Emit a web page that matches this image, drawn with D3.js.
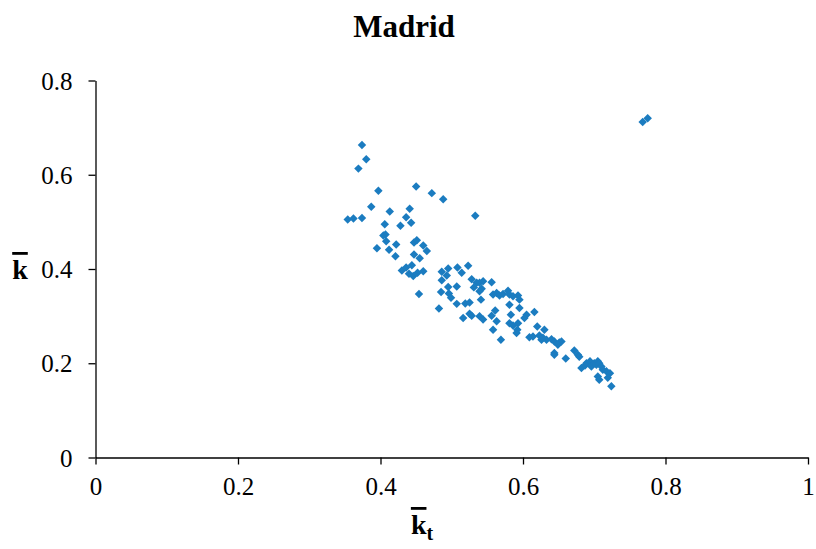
<!DOCTYPE html>
<html>
<head>
<meta charset="utf-8">
<script src="https://cdn.jsdelivr.net/npm/d3@7"></script>
<style>
  html, body { margin: 0; padding: 0; background: #fff; }
  svg { display: block; }
  text { font-family: "Liberation Serif", "Times New Roman", serif; fill: #000; }
</style>
</head>
<body>
<svg id="chart" width="816" height="549"></svg>
<script>
// Madrid: mean clearness index k̄t against mean diffuse fraction k̄
const kt = [
  0.374, 0.380, 0.369, 0.397, 0.450, 0.472, 0.488, 0.387, 0.413, 0.441,
  0.436, 0.354, 0.362, 0.374, 0.406, 0.428, 0.443, 0.533,
  0.404, 0.407, 0.408, 0.395, 0.412, 0.422, 0.421, 0.447, 0.451, 0.460,
  0.465, 0.447, 0.455, 0.430, 0.436, 0.444, 0.440, 0.446, 0.452, 0.460,
  0.454, 0.486, 0.495, 0.493, 0.486, 0.508, 0.514, 0.523, 0.507, 0.495,
  0.485, 0.496, 0.499, 0.507, 0.519, 0.482,
  0.525, 0.528, 0.535, 0.539, 0.544, 0.556, 0.531, 0.542, 0.539, 0.541,
  0.558, 0.563, 0.567, 0.572, 0.579, 0.581, 0.586, 0.593, 0.595, 0.581,
  0.595, 0.561, 0.556, 0.563, 0.583, 0.605, 0.616, 0.516, 0.525, 0.528,
  0.539, 0.544, 0.558, 0.581, 0.586, 0.593, 0.592, 0.591, 0.569, 0.602,
  0.620, 0.630, 0.609, 0.614, 0.623, 0.628, 0.633,
  0.626, 0.640, 0.644, 0.651, 0.654, 0.649, 0.644, 0.644, 0.660, 0.672,
  0.677, 0.679, 0.682, 0.687, 0.689, 0.694, 0.696, 0.700, 0.703, 0.705,
  0.707, 0.710, 0.712, 0.717, 0.722, 0.705, 0.707, 0.719, 0.724,
  0.768, 0.775
];
const k = [
  0.663, 0.633, 0.613, 0.566, 0.575, 0.561, 0.548, 0.532, 0.522, 0.528,
  0.510, 0.505, 0.507, 0.508, 0.495, 0.492, 0.498, 0.513,
  0.471, 0.473, 0.459, 0.444, 0.441, 0.452, 0.427, 0.456, 0.461, 0.450,
  0.438, 0.431, 0.423, 0.397, 0.403, 0.408, 0.390, 0.385, 0.392, 0.395,
  0.347, 0.394, 0.401, 0.386, 0.376, 0.403, 0.392, 0.407, 0.363, 0.362,
  0.351, 0.348, 0.339, 0.326, 0.327, 0.316,
  0.329, 0.378, 0.371, 0.371, 0.374, 0.372, 0.361, 0.358, 0.353, 0.335,
  0.346, 0.349, 0.344, 0.347, 0.354, 0.346, 0.342, 0.344, 0.335, 0.324,
  0.317, 0.312, 0.301, 0.289, 0.303, 0.303, 0.309, 0.296, 0.305, 0.301,
  0.300, 0.293, 0.271, 0.285, 0.280, 0.285, 0.271, 0.264, 0.250, 0.296,
  0.278, 0.271, 0.255, 0.257, 0.259, 0.254, 0.250,
  0.250, 0.251, 0.246, 0.244, 0.246, 0.239, 0.222, 0.218, 0.210, 0.227,
  0.218, 0.214, 0.190, 0.195, 0.200, 0.204, 0.193, 0.200, 0.197, 0.204,
  0.200, 0.193, 0.186, 0.183, 0.179, 0.172, 0.165, 0.169, 0.151,
  0.712, 0.720
];
const xTicks = [0, 0.2, 0.4, 0.6, 0.8, 1];
const yTicks = [0, 0.2, 0.4, 0.6, 0.8];

const svg = d3.select("#chart");
const x = d3.scaleLinear().domain([0, 1]).range([95.5, 808]);
const y = d3.scaleLinear().domain([0, 0.8]).range([457.5, 80.5]);

const fmt = d => d === 0 || d === 1 ? String(d) : d3.format(".1f")(d);

// axes
const xAxis = svg.append("g")
  .attr("transform", `translate(0,${y(0)})`)
  .call(d3.axisBottom(x).tickValues(xTicks).tickFormat(fmt).tickSizeInner(7).tickSizeOuter(0).tickPadding(13));
const yAxis = svg.append("g")
  .attr("transform", `translate(${x(0)},0)`)
  .call(d3.axisLeft(y).tickValues(yTicks).tickFormat(fmt).tickSizeInner(7).tickSizeOuter(0).tickPadding(16));
[xAxis, yAxis].forEach(g => {
  g.attr("font-size", null).attr("font-family", null);
  g.selectAll("path, line").attr("stroke", "#000").attr("stroke-width", 1.3);
  g.selectAll("text").style("font-family", "'Liberation Serif', serif").style("font-size", "25px").attr("fill", "#000");
});
yAxis.selectAll("text").attr("dy", "0.34em");

// points
const pts = d3.zip(kt, k);
svg.append("g").selectAll("path")
  .data(pts)
  .join("path")
  .attr("d", d3.symbol(d3.symbolSquare, 36))
  .attr("transform", d => `translate(${x(d[0])},${y(d[1])}) rotate(45)`)
  .attr("fill", "#1b7cc0");

// title
svg.append("text")
  .attr("x", 404).attr("y", 37)
  .attr("text-anchor", "middle")
  .style("font-size", "31px").style("font-weight", "bold")
  .text("Madrid");

// y label: k with overline
svg.append("text")
  .attr("x", 20).attr("y", 279)
  .attr("text-anchor", "middle")
  .style("font-size", "28px").style("font-weight", "bold")
  .style("text-decoration", "overline")
  .text("k");

// x label: k with overline and subscript t
const xl = svg.append("text")
  .attr("x", 422).attr("y", 534)
  .attr("text-anchor", "middle")
  .style("font-size", "28px").style("font-weight", "bold");
xl.append("tspan").style("text-decoration", "overline").text("k");
xl.append("tspan").attr("dy", 6).style("font-size", "20px").text("t");
</script>
</body>
</html>
